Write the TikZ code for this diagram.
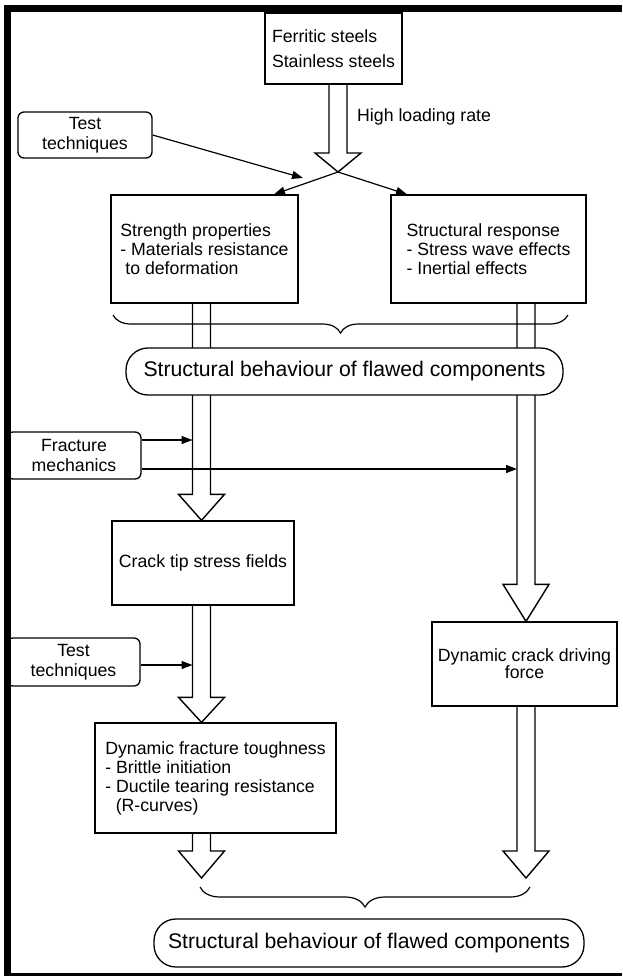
\documentclass[tikz,border=0pt]{standalone}
\usepackage{fontspec}
\setmainfont{Liberation Sans}
\usetikzlibrary{arrows.meta, calc, decorations.pathreplacing}

\tikzset{
  box/.style={draw, line width=1.3pt, inner sep=2pt, align=left,
    font=\fontsize{17.7}{19}\selectfont},
  cbox/.style={box, align=center},
  side/.style={draw, line width=1.3pt, rounded corners=6pt, align=center, inner sep=0pt,
    font=\fontsize{17.7}{20}\selectfont},
  pill/.style={draw, fill=white, line width=1.3pt, rounded corners=22pt, inner sep=0pt,
    font=\fontsize{21.2}{24}\selectfont},
  arr/.style={line width=1.2pt, -{Triangle[length=11pt,width=8pt]}},
  brc/.style={line width=1.2pt, decorate, decoration={brace, mirror, amplitude=#1}},
  fat/.style={line width=1.4pt, to path={let \p1=(\tikztostart), \p2=(\tikztotarget) in
    (\x1-9pt,\y1) -- (\x1-9pt,\y2+#1) -- (\x1-23pt,\y2+#1) -- (\x1,\y2)
    -- (\x1+23pt,\y2+#1) -- (\x1+9pt,\y2+#1) -- (\x1+9pt,\y1)}},
  fat/.default=26pt
}

\begin{document}
\begin{tikzpicture}[x=1pt, y=-1pt]
  \useasboundingbox (0,0) rectangle (622,976);
  % Materials and loading
  \node[box, minimum width=137pt, minimum height=71pt,
    font=\fontsize{17.7}{25}\selectfont] (steel) at (333.5,48.5) {Ferritic steels\\Stainless steels};
  \node[anchor=west, inner sep=0pt, font=\fontsize{17.7}{19}\selectfont] (rate) at (357,117) {High loading rate};
  \node[side, minimum width=134pt, minimum height=46pt] (test1) at (85,135) {Test\\techniques};
  % Two branches
  \node[box, minimum width=187pt, minimum height=108pt] (strength) at (204.5,249)
    {Strength properties\\- Materials resistance\\\hspace*{5pt}to deformation};
  \node[box, minimum width=195pt, minimum height=108pt] (response) at (488.5,249)
    {Structural response\\- Stress wave effects\\- Inertial effects};
  % Left column
  \node[side, minimum width=134pt, minimum height=47pt] (fracture) at (74,455.5) {Fracture\\mechanics};
  \node[cbox, minimum width=182pt, minimum height=84pt] (crack) at (203,563) {Crack tip stress fields};
  \node[side, minimum width=133pt, minimum height=48pt] (test2) at (73.5,662) {Test\\techniques};
  \node[box, minimum width=241pt, minimum height=110pt] (tough) at (215.5,778)
    {Dynamic fracture toughness\\- Brittle initiation\\- Ductile tearing resistance\\\hspace*{10.5pt}(R-curves)};
  % Right column
  \node[cbox, minimum width=185pt, minimum height=84pt,
    font=\fontsize{17.7}{17}\selectfont] (drive) at (524.5,664) {Dynamic crack driving\\force};

  \coordinate (merge) at (338,172);
  \coordinate (hit) at (303,178);
  \coordinate (lc) at (201.5,0);
  \coordinate (rc) at (526,0);
  \coordinate (lsh) at (192.5,0);
  \coordinate (rsh) at (517,0);
  \coordinate (lend) at (201.5,878);
  \coordinate (rend) at (526,878);

  % Hollow arrows
  \draw[fat=19pt] (merge |- steel.south) to (merge);
  \draw[fat] (lc |- strength.south) to (lc |- crack.north);
  \draw[fat=25pt] (lc |- crack.south) to (lc |- tough.north);
  \draw[fat=27pt] (lc |- tough.south) to (lend);
  \draw[fat=37pt] (rc |- response.south) to (rc |- drive.north);
  \draw[fat=27pt] (rc |- drive.south) to (rend);

  % Braces
  \draw[brc=18pt] (113,315) -- (568,315);
  \draw[brc=20pt] (200,887) -- (530,887);

  \node[pill, minimum width=437pt, minimum height=47pt] (behav1) at (344.5,371.5)
    {Structural behaviour of flawed components};
  \node[pill, minimum width=430pt, minimum height=48pt] (behav2) at (369,943)
    {Structural behaviour of flawed components};

  % Thin arrows
  \draw[arr] (test1.east) -- (hit);
  \draw[arr] (merge) -- ([xshift=69.5pt]strength.north);
  \draw[arr] (merge) -- ([xshift=-81.5pt]response.north);
  \coordinate (f1) at ([yshift=15.5pt]fracture.east);
  \coordinate (f2) at ([yshift=-13.5pt]fracture.east);
  \coordinate (t2) at ([yshift=-3pt]test2.east);
  \draw[arr] (f1) -- (f1 -| lsh);
  \draw[arr] (f2) -- (f2 -| rsh);
  \draw[arr] (t2) -- (t2 -| lsh);

  % Frame
  \draw[line width=7pt] (7.5,976) -- (7.5,8.5) -- (622,8.5);
  \draw[line width=2.5pt] (7.5,974.5) -- (622,974.5);
\end{tikzpicture}
\end{document}
